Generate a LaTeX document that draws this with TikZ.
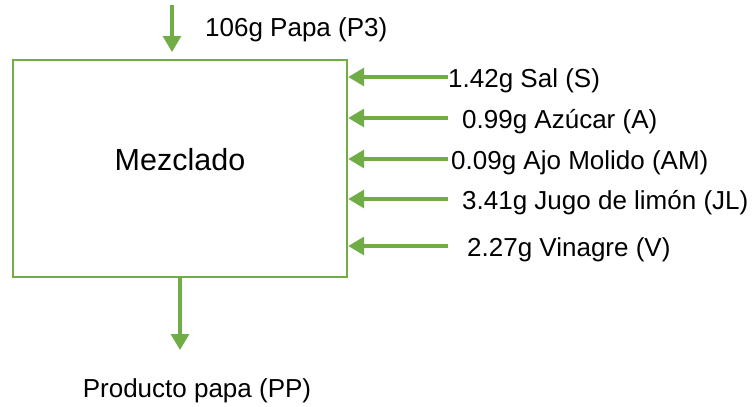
\documentclass[tikz,border=0pt]{standalone}
\usepackage{fontspec}
\setmainfont{Liberation Sans}
\usetikzlibrary{arrows.meta, positioning}
\definecolor{mGreen}{HTML}{70AD47}

\begin{document}
\begin{tikzpicture}[x=1pt, y=-1pt,
    flecha/.style={draw=mGreen, line width=3.2pt, -{Triangle[length=16pt, width=18pt]}},
    etiq/.style={inner sep=0pt, font=\fontsize{26}{30}\selectfont}]
    \useasboundingbox (0,0) rectangle (756,407);
    % bloque de proceso
    \node[draw=mGreen, line width=2.4pt, minimum width=334pt, minimum height=217pt,
          inner sep=0pt] (mezcla) at (180,168.5) {};
    \node[etiq, font=\fontsize{30.5}{34}\selectfont, anchor=base] (nom) at (180,170) {Mezclado};
    % entrada principal
    \coordinate (pIn) at (172,5);
    \draw[flecha] (pIn) -- (pIn |- 0,52);
    \node[etiq, anchor=base west] (papa) at (205,36) {106g Papa (P3)};
    % ingredientes
    \foreach \lbl/\yy/\xx/\nm in {{1.42g Sal (S)}/77/448/sal, {0.99g Azúcar (A)}/118/462/azu,
        {0.09g Ajo Molido (AM)}/159/451/ajo, {3.41g Jugo de limón (JL)}/199/462/jugo,
        {2.27g Vinagre (V)}/246/467/vin} {
      \coordinate (c\nm) at (448,\yy);
      \node[etiq, anchor=base west] (\nm) at (\xx,\yy+10) {\lbl};
      \draw[flecha] (c\nm) -- (c\nm -| mezcla.east);
    }
    % salida
    \coordinate (pOut) at (180,350);
    \draw[flecha] (mezcla.south -| pOut) -- (pOut);
    \node[etiq, anchor=base] (prod) at (197,397) {Producto papa (PP)};
  \end{tikzpicture}
\end{document}
